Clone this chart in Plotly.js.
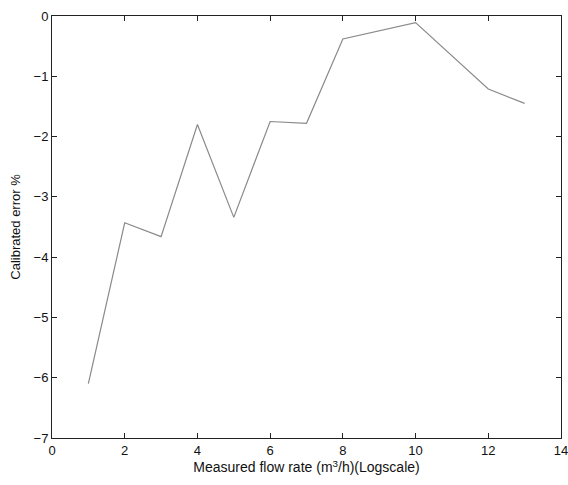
<!DOCTYPE html>
<html>
<head>
<meta charset="utf-8">
<script src="https://cdn.plot.ly/plotly-3.0.1.min.js"></script>
<style>html,body{margin:0;padding:0;background:#fff;}#chart{width:568px;height:485px;}</style>
</head>
<body>
<div id="chart"></div>
<script>
const flowRate = [1, 2, 3, 4, 5, 6, 7, 8, 10, 12, 13];
const calibratedError = [-6.1, -3.43, -3.66, -1.8, -3.34, -1.75, -1.78, -0.38, -0.11, -1.21, -1.45];
const xTicks = [0, 2, 4, 6, 8, 10, 12, 14];
const yTicks = [0, -1, -2, -3, -4, -5, -6, -7];

const trace = {
  x: flowRate,
  y: calibratedError,
  type: 'scatter',
  mode: 'lines',
  line: {color: '#8a8a8a', width: 1.2},
  hoverinfo: 'skip'
};

const axisCommon = {
  showgrid: false,
  zeroline: false,
  showline: true,
  linecolor: '#222',
  linewidth: 1,
  mirror: 'ticks',
  ticks: 'inside',
  ticklen: 5,
  tickcolor: '#222',
  ticklabeloverflow: 'allow',
  tickfont: {family: 'Liberation Sans, Arial, sans-serif', size: 13, color: '#111'}
};

const layout = {
  width: 568,
  height: 485,
  margin: {l: 52, r: 7, t: 16, b: 47},
  paper_bgcolor: '#fff',
  plot_bgcolor: '#fff',
  showlegend: false,
  font: {family: 'Liberation Sans, Arial, sans-serif', color: '#111'},
  xaxis: Object.assign({}, axisCommon, {
    range: [0, 14],
    tickvals: xTicks,
    ticktext: xTicks.map(String),
    title: {text: 'Measured flow rate (m<sup>3</sup>/h)(Logscale)', font: {size: 14, color: '#111'}, standoff: 3}
  }),
  yaxis: Object.assign({}, axisCommon, {
    range: [-7, 0],
    tickvals: yTicks,
    ticktext: yTicks.map(v => v < 0 ? '\u2212' + Math.abs(v) : String(v)),
    title: {text: 'Calibrated error %', font: {size: 13, color: '#111'}, standoff: 10}
  })
};

Plotly.newPlot('chart', [trace], layout, {displayModeBar: false, staticPlot: true});
</script>
</body>
</html>
